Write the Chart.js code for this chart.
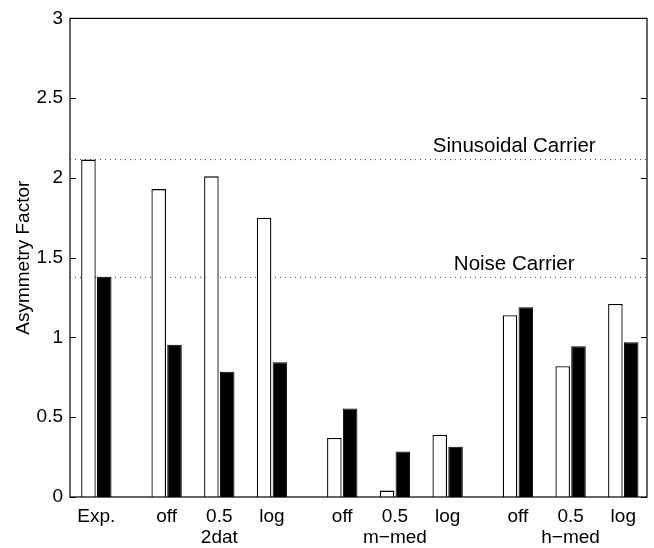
<!DOCTYPE html>
<html>
<head>
    <title>Asymmetry Factor</title>
    <script src="https://cdn.jsdelivr.net/npm/chart.js"></script>
    <style>
        body { margin: 0; background: #fff; }
        #caja { width: 654px; height: 548px; }
    </style>
</head>
<body>
    <div id="caja"><canvas id="grafica"></canvas></div>

    <script>
        // posiciones de los grupos en el eje x (hueco de 1/3 entre bloques)
        const posiciones = [1, 7 / 3, 10 / 3, 13 / 3, 17 / 3, 20 / 3, 23 / 3, 9, 10, 11];
        const etiquetas = ['Exp.', 'off', ['0.5', '2dat'], 'log', 'off', ['0.5', 'm\u2212med'], 'log', 'off', ['0.5', 'h\u2212med'], 'log'];

        // valores
        const barrasBlancas = [2.115, 1.93, 2.01, 1.75, 0.37, 0.04, 0.39, 1.14, 0.82, 1.21];
        const barrasNegras = [1.38, 0.955, 0.785, 0.845, 0.555, 0.285, 0.315, 1.19, 0.945, 0.97];

        // lineas de referencia
        const nivelSenoidal = 2.115;
        const nivelRuido = 1.377;
        const ticksY = [0, 0.5, 1, 1.5, 2, 2.5, 3];

        const xMin = 0.5, xMax = 11.45;

        function puntos(valores) {
            return valores.map((v, i) => ({ x: posiciones[i], y: v }));
        }

        // marco, marcas internas y textos de las lineas
        const marco = {
            id: 'marco',
            afterDatasetsDraw(chart) {
                const { ctx, chartArea: a, scales } = chart;
                ctx.save();
                ctx.strokeStyle = '#000';
                ctx.lineWidth = 1.2;
                ctx.strokeRect(a.left, a.top, a.right - a.left, a.bottom - a.top);
                ctx.lineWidth = 1;
                for (const t of ticksY) {
                    const y = Math.round(scales.y.getPixelForValue(t)) + 0.5;
                    ctx.beginPath();
                    ctx.moveTo(a.left, y); ctx.lineTo(a.left + 6, y);
                    ctx.moveTo(a.right, y); ctx.lineTo(a.right - 6, y);
                    ctx.stroke();
                }
                ctx.fillStyle = '#000';
                ctx.font = '20.5px "Liberation Sans", Arial, sans-serif';
                ctx.textAlign = 'center';
                ctx.textBaseline = 'bottom';
                const xt = scales.x.getPixelForValue(8.93);
                ctx.fillText('Sinusoidal Carrier', xt, scales.y.getPixelForValue(nivelSenoidal) - 3);
                ctx.fillText('Noise Carrier', xt, scales.y.getPixelForValue(nivelRuido) - 3);
                ctx.restore();
            }
        };

        const linea = (nivel) => ({
            type: 'line',
            order: 5,
            data: [{ x: xMin, y: nivel }, { x: xMax, y: nivel }],
            borderColor: '#444',
            borderWidth: 1,
            borderDash: [1, 4],
            pointRadius: 0,
            fill: false
        });

        const ctx = document.getElementById('grafica').getContext('2d');
        new Chart(ctx, {
            type: 'bar',
            data: {
                datasets: [
                    {
                        data: puntos(barrasBlancas),
                        order: 1,
                        backgroundColor: '#fff',
                        borderColor: '#000',
                        borderWidth: 1.3,
                        categoryPercentage: 0.6,
                        barPercentage: 0.92
                    },
                    {
                        data: puntos(barrasNegras),
                        order: 1,
                        backgroundColor: '#000',
                        borderColor: '#000',
                        borderWidth: 1,
                        categoryPercentage: 0.6,
                        barPercentage: 0.92
                    },
                    linea(nivelSenoidal),
                    linea(nivelRuido)
                ]
            },
            options: {
                responsive: true,
                maintainAspectRatio: false,
                animation: false,
                layout: { padding: { top: 15, right: 7, left: 0, bottom: 0 } },
                plugins: { legend: { display: false }, tooltip: { enabled: false } },
                scales: {
                    x: {
                        type: 'linear',
                        min: xMin,
                        max: xMax,
                        offset: false,
                        grid: { display: false, drawTicks: false },
                        border: { display: false },
                        afterBuildTicks(scale) {
                            scale.ticks = posiciones.map(v => ({ value: v }));
                        },
                        afterFit(scale) { scale.height = 51; },
                        ticks: {
                            autoSkip: false,
                            maxRotation: 0,
                            padding: 9,
                            color: '#000',
                            font: { family: '"Liberation Sans", Arial, sans-serif', size: 19, lineHeight: 1.1 },
                            callback: (v, i) => etiquetas[i]
                        }
                    },
                    y: {
                        min: 0,
                        max: 3,
                        grid: { display: false, drawTicks: false },
                        border: { display: false },
                        afterBuildTicks(scale) {
                            scale.ticks = ticksY.map(v => ({ value: v }));
                        },
                        afterFit(scale) { scale.width = 70; },
                        ticks: {
                            padding: 7,
                            color: '#000',
                            font: { family: '"Liberation Sans", Arial, sans-serif', size: 19 },
                            callback: v => String(v)
                        },
                        title: {
                            display: true,
                            text: 'Asymmetry Factor',
                            color: '#000',
                            padding: { top: 12, bottom: 0 },
                            font: { family: '"Liberation Sans", Arial, sans-serif', size: 19 }
                        }
                    }
                }
            },
            plugins: [marco]
        });
    </script>
</body>
</html>
